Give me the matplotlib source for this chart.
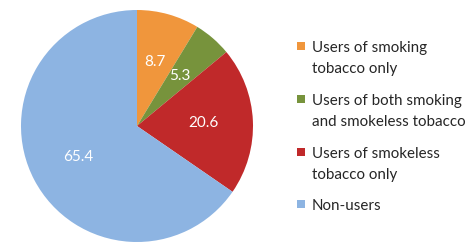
import matplotlib
matplotlib.use("Agg")
import matplotlib.pyplot as plt
from matplotlib.patches import Rectangle

categories = ["Users of smoking\ntobacco only",
              "Users of both smoking\nand smokeless tobacco",
              "Users of smokeless\ntobacco only",
              "Non-users"]
values = [8.7, 5.3, 20.6, 65.4]
colors = ["#F0963C", "#77933C", "#C0292A", "#8DB4E2"]

W, H = 475, 242
fig = plt.figure(figsize=(W / 100, H / 100), dpi=100)
fig.patch.set_facecolor("white")

cx, cy, r = 137, 126, 116
ax = fig.add_axes([(cx - r) / W, (H - cy - r) / H, 2 * r / W, 2 * r / H])
wedges, texts, autotexts = ax.pie(values, colors=colors, startangle=90, counterclock=False,
                                  autopct="%.1f", pctdistance=0.57, radius=1,
                                  wedgeprops=dict(linewidth=0),
                                  textprops=dict(color="white", fontsize=11, family="Lato"))
ax.set_xlim(-1, 1)
ax.set_ylim(-1, 1)
ax.set_aspect("equal")
ax.axis("off")

# legend (manual layout)
baselines = [52, 105, 158, 210]
sq = 8
for lab, col, yb in zip(categories, colors, baselines):
    fig.patches.append(Rectangle((297 / W, (H - yb + 2) / H), sq / W, sq / H,
                                 transform=fig.transFigure, facecolor=col, edgecolor="none"))
    for i, line in enumerate(lab.split("\n")):
        fig.text(312 / W, (H - yb - 21 * i) / H, line, fontsize=10.9, family="Lato",
                 color="#262626", va="baseline", ha="left")

fig.savefig("out.png", dpi=100)
